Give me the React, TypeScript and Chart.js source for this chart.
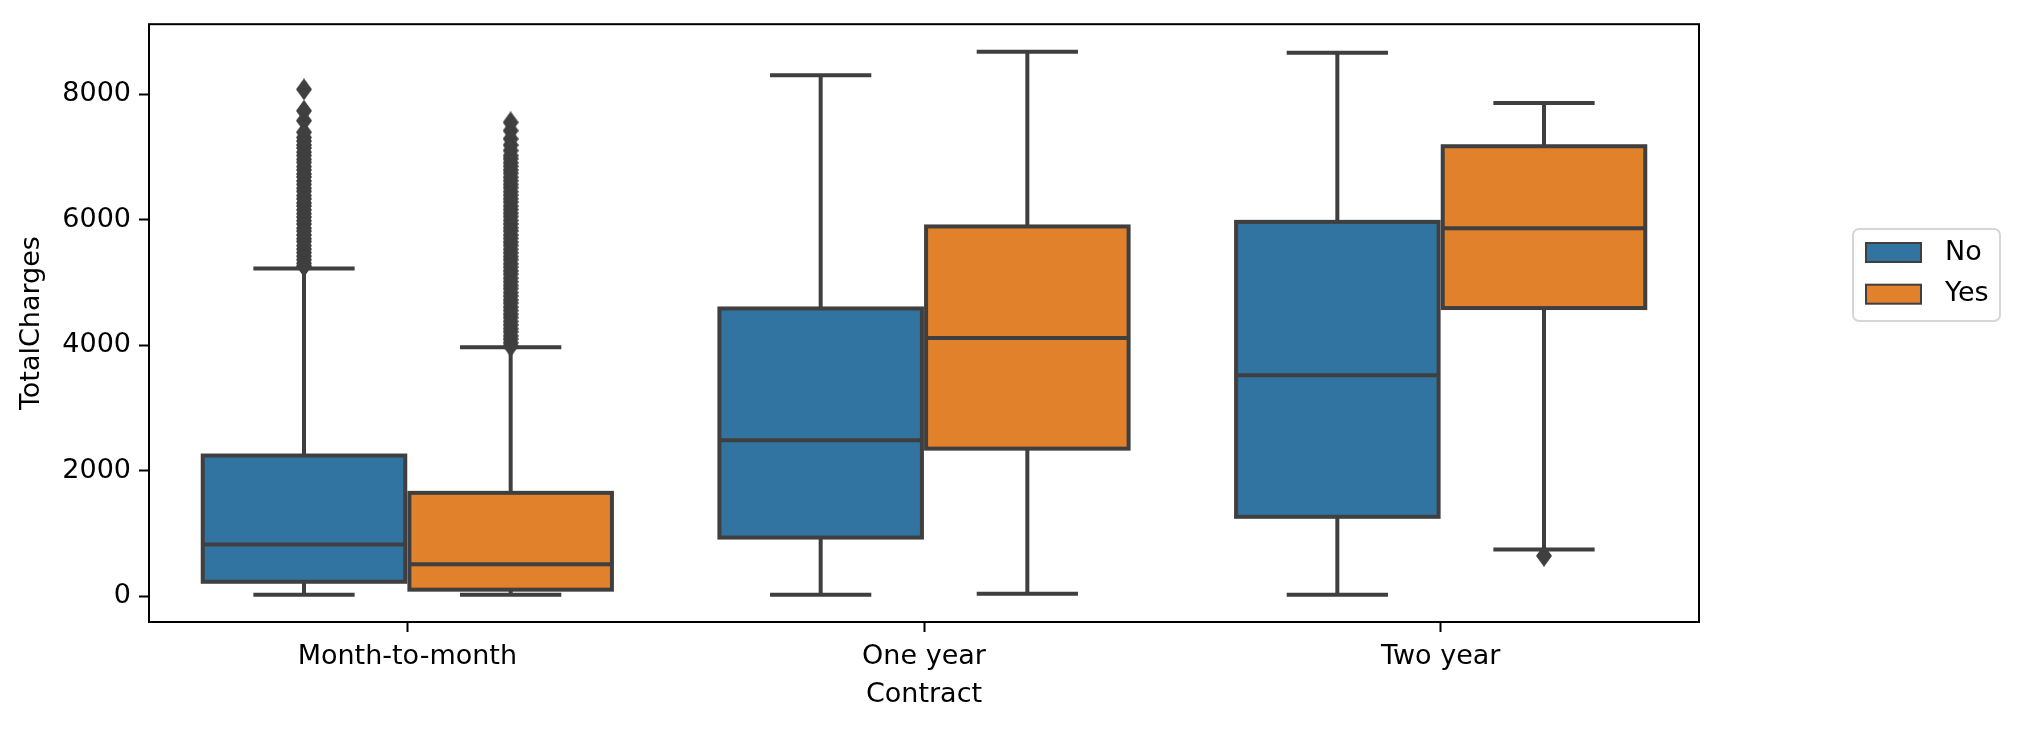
import React, { useEffect, useRef } from 'react'
import Chart from 'chart.js/auto'

const categories = ['Month-to-month', 'One year', 'Two year']
const hues = ['No', 'Yes']
const hueOffsets = [-0.2, 0.2]
const hueColors = ['#3274a1', '#e1812c']
const lineGray = '#3f3f3f'

// box stats per contract, churn = No
const noLow = [19, 20, 20]
const noQ1 = [227, 932, 1263]
const noMedian = [822, 2483, 3519]
const noQ3 = [2240, 4585, 5966]
const noHigh = [5224, 8303, 8664]

// churn = Yes
const yesLow = [19, 36, 741]
const yesQ1 = [101, 2350, 4592]
const yesMedian = [506, 4114, 5864]
const yesQ3 = [1645, 5893, 7172]
const yesHigh = [3967, 8679, 7862]

// outliers
const noMonthOutliers = [
  5262, 5305, 5362, 5418, 5476, 5531, 5588, 5652, 5698, 5757, 5818, 5866, 5931, 5984, 6043,
  6097, 6158, 6219, 6268, 6333, 6386, 6452, 6503, 6564, 6618, 6683, 6731, 6794, 6848, 6913,
  6962, 7024, 7078, 7143, 7192, 7254, 7312, 7395, 7580, 7737, 8079,
]
const yesMonthOutliers = [
  3985, 4038, 4097, 4149, 4212, 4263, 4322, 4378, 4441, 4493, 4552, 4608, 4671, 4722, 4783,
  4838, 4902, 4953, 5012, 5068, 5131, 5184, 5243, 5298, 5362, 5413, 5472, 5528, 5591, 5643,
  5702, 5758, 5822, 5873, 5932, 5988, 6051, 6104, 6162, 6218, 6281, 6334, 6392, 6448, 6512,
  6563, 6622, 6678, 6741, 6793, 6852, 6908, 6972, 7023, 7104, 7190, 7290, 7420, 7553,
]
const yesTwoYearOutliers = [640]

const yTicks = [0, 2000, 4000, 6000, 8000]
const yTickLabels = ['0', '2000', '4000', '6000', '8000']
const yMin = -414.5
const yMax = 9118

const FONT = { family: "'DejaVu Sans'", size: 27 }

const stats = [
  { low: noLow, q1: noQ1, med: noMedian, q3: noQ3, high: noHigh },
  { low: yesLow, q1: yesQ1, med: yesMedian, q3: yesQ3, high: yesHigh },
]

const roundRectPath = (ctx: CanvasRenderingContext2D, x: number, y: number, w: number, h: number, r: number) => {
  ctx.beginPath()
  ctx.moveTo(x + r, y)
  ctx.lineTo(x + w - r, y)
  ctx.arcTo(x + w, y, x + w, y + r, r)
  ctx.lineTo(x + w, y + h - r)
  ctx.arcTo(x + w, y + h, x + w - r, y + h, r)
  ctx.lineTo(x + r, y + h)
  ctx.arcTo(x, y + h, x, y + h - r, r)
  ctx.lineTo(x, y + r)
  ctx.arcTo(x, y, x + r, y, r)
  ctx.closePath()
}

const boxPlugin = {
  id: 'boxParts',
  afterDatasetsDraw(chart: any) {
    const ctx = chart.ctx as CanvasRenderingContext2D
    const xs = chart.scales.x2
    const ys = chart.scales.y
    ctx.save()
    ctx.strokeStyle = lineGray
    ctx.lineWidth = 4
    ctx.lineCap = 'butt'
    ctx.lineJoin = 'miter'
    stats.forEach((s, h) => {
      const off = hueOffsets[h]
      categories.forEach((_, i) => {
        const cx = xs.getPixelForValue(i + off)
        const l = xs.getPixelForValue(i + off - 0.196)
        const r = xs.getPixelForValue(i + off + 0.196)
        const capL = xs.getPixelForValue(i + off - 0.098)
        const capR = xs.getPixelForValue(i + off + 0.098)
        const yLow = ys.getPixelForValue(s.low[i])
        const yQ1 = ys.getPixelForValue(s.q1[i])
        const yMed = ys.getPixelForValue(s.med[i])
        const yQ3 = ys.getPixelForValue(s.q3[i])
        const yHigh = ys.getPixelForValue(s.high[i])
        ctx.beginPath()
        ctx.moveTo(cx, yQ3)
        ctx.lineTo(cx, yHigh)
        ctx.moveTo(cx, yQ1)
        ctx.lineTo(cx, yLow)
        ctx.moveTo(capL, yHigh)
        ctx.lineTo(capR, yHigh)
        ctx.moveTo(capL, yLow)
        ctx.lineTo(capR, yLow)
        ctx.moveTo(l, yMed)
        ctx.lineTo(r, yMed)
        ctx.stroke()
        ctx.strokeRect(l, yQ3, r - l, yQ1 - yQ3)
      })
    })
    ctx.restore()
  },
  afterDraw(chart: any) {
    const ctx = chart.ctx as CanvasRenderingContext2D
    const a = chart.chartArea
    ctx.save()
    // axes frame
    ctx.strokeStyle = '#000'
    ctx.lineWidth = 2
    ctx.strokeRect(a.left, a.top, a.right - a.left, a.bottom - a.top)

    // legend
    const lx = a.right + 154
    const ly = 229
    roundRectPath(ctx, lx, ly, 147, 92, 6)
    ctx.fillStyle = 'rgba(255,255,255,0.8)'
    ctx.fill()
    ctx.strokeStyle = '#d6d6d6'
    ctx.lineWidth = 2
    ctx.stroke()
    const rows = [252.5, 294.2]
    ctx.font = `${FONT.size}px ${FONT.family}`
    ctx.textBaseline = 'middle'
    ctx.textAlign = 'left'
    hues.forEach((label, i) => {
      ctx.fillStyle = hueColors[i]
      ctx.fillRect(lx + 13, rows[i] - 9.5, 55, 19)
      ctx.strokeStyle = lineGray
      ctx.lineWidth = 2
      ctx.strokeRect(lx + 13, rows[i] - 9.5, 55, 19)
      ctx.fillStyle = '#000'
      ctx.fillText(label, lx + 92, rows[i])
    })
    ctx.restore()
  },
}

const App = () => {
  const canvasRef = useRef<HTMLCanvasElement>(null)

  useEffect(() => {
    if (canvasRef.current == null) return

    // thin diamond marker like matplotlib's 'd'
    const diamond = document.createElement('canvas')
    diamond.width = 16
    diamond.height = 22
    const dctx = diamond.getContext('2d')!
    dctx.fillStyle = lineGray
    dctx.beginPath()
    dctx.moveTo(8, 0)
    dctx.lineTo(16, 11)
    dctx.lineTo(8, 22)
    dctx.lineTo(0, 11)
    dctx.closePath()
    dctx.fill()

    const noOutliers = noMonthOutliers.map((v) => ({ x: 0 + hueOffsets[0], y: v }))
    const yesOutliers = [
      ...yesMonthOutliers.map((v) => ({ x: 0 + hueOffsets[1], y: v })),
      ...yesTwoYearOutliers.map((v) => ({ x: 2 + hueOffsets[1], y: v })),
    ]

    const gridOpts = {
      display: true,
      drawOnChartArea: false,
      offset: false,
      tickLength: 10,
      tickWidth: 2,
      tickColor: '#000',
    }

    // box width: 0.392 of one category slot (1550px / 3)
    const boxPx = 202.5

    const myChart = new Chart(canvasRef.current, {
      type: 'bar',
      data: {
        labels: categories,
        datasets: [
          {
            label: hues[0],
            data: categories.map((_, i) => ({ x: i + hueOffsets[0], y: [noQ1[i], noQ3[i]] })),
            backgroundColor: hueColors[0],
            borderWidth: 0,
            grouped: false,
            barThickness: boxPx,
            maxBarThickness: boxPx,
            xAxisID: 'x2',
          },
          {
            label: hues[1],
            data: categories.map((_, i) => ({ x: i + hueOffsets[1], y: [yesQ1[i], yesQ3[i]] })),
            backgroundColor: hueColors[1],
            borderWidth: 0,
            grouped: false,
            barThickness: boxPx,
            maxBarThickness: boxPx,
            xAxisID: 'x2',
          },
          {
            type: 'scatter',
            label: 'No outliers',
            data: noOutliers,
            xAxisID: 'x2',
            pointStyle: diamond,
            backgroundColor: lineGray,
            pointRadius: 8,
          },
          {
            type: 'scatter',
            label: 'Yes outliers',
            data: yesOutliers,
            xAxisID: 'x2',
            pointStyle: diamond,
            backgroundColor: lineGray,
            pointRadius: 8,
          },
        ] as any,
      },
      options: {
        animation: false,
        responsive: true,
        maintainAspectRatio: false,
        layout: { padding: { left: 0, top: 19, right: 320, bottom: 0 } },
        plugins: {
          legend: { display: false },
          tooltip: { enabled: false },
        },
        scales: {
          x: {
            type: 'category',
            labels: categories,
            offset: true,
            grid: gridOpts,
            border: { display: false },
            ticks: { color: '#000', font: FONT, padding: 8.5, maxRotation: 0, autoSkip: false },
            title: {
              display: true,
              text: 'Contract',
              color: '#000',
              font: FONT,
              padding: { top: 0, bottom: 19 },
            },
            afterFit: (s: any) => {
              s.height = 108
            },
          },
          x2: {
            type: 'linear',
            min: -0.5,
            max: 2.5,
            offset: false,
            display: false,
          },
          y: {
            type: 'linear',
            stacked: false,
            min: yMin,
            max: yMax,
            afterBuildTicks: (s: any) => {
              s.ticks = yTicks.map((v) => ({ value: v }))
            },
            grid: gridOpts,
            border: { display: false },
            ticks: {
              color: '#000',
              font: FONT,
              padding: 8,
              callback: (v: any) => {
                const k = yTicks.indexOf(Number(v))
                return k >= 0 ? yTickLabels[k] : ''
              },
            },
            title: {
              display: true,
              text: 'TotalCharges',
              color: '#000',
              font: FONT,
              padding: { top: 16, bottom: 0 },
            },
            afterFit: (s: any) => {
              s.width = 149
            },
          },
        },
      } as any,
      plugins: [boxPlugin],
    })

    return () => {
      myChart.destroy()
    }
  }, [])

  return (
    <div style={{ position: 'fixed', left: 0, top: 0, width: 2019, height: 730, background: '#fff' }}>
      <canvas ref={canvasRef}></canvas>
    </div>
  )
}

export default App
